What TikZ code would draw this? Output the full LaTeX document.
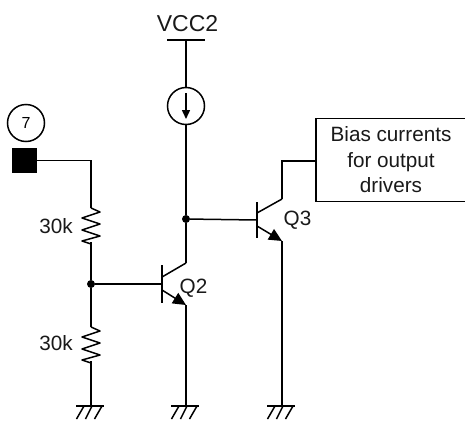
\documentclass[tikz,border=0pt]{standalone}
\usepackage{fontspec}
\setmainfont{Liberation Sans}
\usetikzlibrary{arrows.meta}
\tikzset{
  wire/.style={line width=1.5pt,line join=miter},
  thickbar/.style={line width=2.4pt},
  lbl/.style={inner sep=0pt,font=\fontsize{20.7}{24}\selectfont,text=black!90},
  dotnode/.style={circle,fill=black,inner sep=0pt,minimum size=8pt},
  ring/.style={circle,draw,line width=1.5pt,inner sep=0pt,minimum size=37pt},
}
\newcommand{\gndsym}[2]{%
  \draw[wire] (#1,#2) ++(-15,0) -- ++(28,0);
  \draw[wire] (#1,#2) ++(-7,0) -- ++(-7.5,13);
  \draw[wire] (#1,#2) ++(1,0) -- ++(-6.5,13);
  \draw[wire] (#1,#2) ++(11,0) -- ++(-7.5,13);
}
\newcommand{\reszig}[2]{%
  \draw[wire,line join=round] (#1,#2) -- ++(9,4) -- ++(-18,6) -- ++(18,6) -- ++(-18,6) -- ++(18,6) -- ++(-18,5) -- ++(9,3);
}
\begin{document}
\begin{tikzpicture}[x=1pt,y=-1pt]
\useasboundingbox (0,0) rectangle (465,423);
% pad and pin label
\node[ring] (pin) at (26,123) {\fontsize{16}{18}\selectfont 7};
\node[fill=black,minimum size=25pt,inner sep=0pt] (pad) at (24.5,160.5) {};
% junctions
\node[dotnode] (j1) at (91,284) {};
\node[dotnode] (j2) at (186,219) {};
% left divider
\coordinate (r1t) at (91,208);
\coordinate (r1b) at (91,242);
\coordinate (r2t) at (91,327);
\coordinate (r2b) at (91,361);
\coordinate (g1) at (91,406);
\draw[wire] (pad.east) -| (r1t);
\reszig{91}{208}
\draw[wire] (r1b) -- (j1);
\draw[wire] (j1) -- (r2t);
\reszig{91}{327}
\draw[wire] (r2b) -- (g1);
\gndsym{91}{406}
\node[lbl] (r1l) at (56,226) {30k};
\node[lbl] (r2l) at (56,343) {30k};
% VCC2
\node[lbl,font=\fontsize{23}{26}\selectfont] (vcc) at (187.5,24) {VCC2};
\coordinate (vb) at (186,40);
\draw[wire] (167,40) -- (205,40);
\node[ring] (src) at (186,106) {};
\draw[wire] (vb) -- (src.north);
\draw[wire,-{Triangle[length=9pt,width=8pt]}] (186,93) -- (186,119);
% Q2
\coordinate (q2c) at (186,263);
\coordinate (q2e) at (186,305);
\coordinate (q2b) at (162,284);
\coordinate (g2) at (186,406);
\draw[wire] (src.south) -- (j2);
\draw[wire] (j2) -- (q2c);
\draw[wire] (j1) -- (q2b);
\draw[thickbar] (162,265) -- (162,303);
\draw[wire] (162,277) -- (q2c);
\draw[wire,-{Triangle[length=13pt,width=12pt]}] (162,290) -- (q2e);
\draw[wire] (q2e) -- (g2);
\gndsym{186}{406}
\node[lbl] (q2l) at (193.5,288) {Q2};
% Q3
\coordinate (q3c) at (282,199);
\coordinate (q3e) at (282,241);
\coordinate (q3b) at (257,220);
\coordinate (g3) at (282,406);
\draw[wire] (j2) -- (q3b);
\draw[thickbar] (257,202) -- (257,238);
\draw[wire] (257,213) -- (q3c);
\draw[wire,-{Triangle[length=13pt,width=12pt]}] (257,226) -- (q3e);
\draw[wire] (q3e) -- (g3);
\gndsym{282}{406}
\node[lbl] (q3l) at (297.5,220) {Q3};
% box
\draw[wire] (465,118.5) -- (316,118.5) -- (316,201.5) -- (465,201.5);
\coordinate (boxw) at (316,161);
\draw[wire] (q3c) |- (boxw);
\node[lbl,anchor=base] (t1) at (391,141) {Bias currents};
\node[lbl,anchor=base] (t2) at (391,167) {for output};
\node[lbl,anchor=base] (t3) at (391,192) {drivers};
\end{tikzpicture}
\end{document}
